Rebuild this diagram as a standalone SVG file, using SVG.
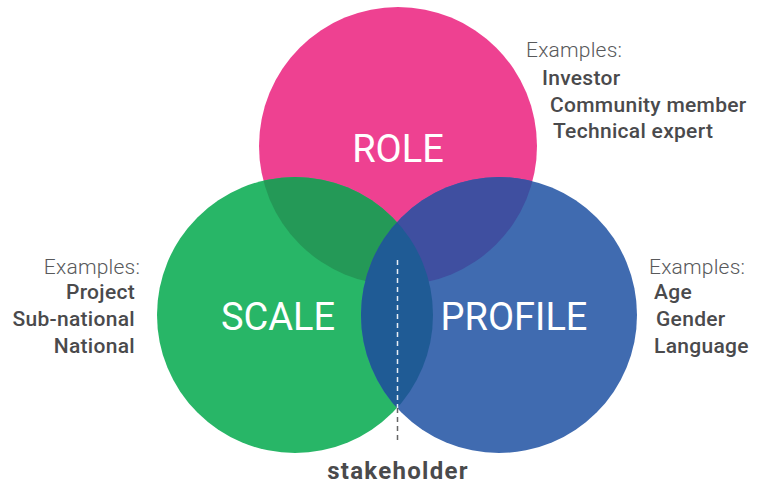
<svg xmlns="http://www.w3.org/2000/svg" width="757" height="484" viewBox="0 0 757 484">
<style>
.big{font-family:Roboto,"Liberation Sans",sans-serif;font-size:38px;fill:#fff;text-anchor:middle}
.ex{font-family:Roboto,"Liberation Sans",sans-serif;font-size:21px;fill:#58595b;font-weight:300;letter-spacing:0.2px}
.it{font-family:Roboto,"Liberation Sans",sans-serif;font-size:21px;fill:#4a4a4c;font-weight:500;letter-spacing:0.3px}
.r{text-anchor:end}
.sh{font-family:Roboto,"Liberation Sans",sans-serif;font-size:24px;fill:#4a4a4c;font-weight:700;text-anchor:middle;letter-spacing:1.3px}
</style>
<defs>
<clipPath id="cRole"><circle cx="398" cy="146" r="139"/></clipPath>
<clipPath id="cScale"><circle cx="295" cy="315" r="138"/></clipPath>
</defs>
<rect width="757" height="484" fill="#fff"/>
<g id="role"><circle cx="398" cy="146" r="139" fill="#ee4191"/></g>
<g id="scale"><circle cx="295" cy="315" r="138" fill="#28b667"/></g>
<g id="profile"><circle cx="499" cy="315" r="138" fill="#406bb0"/></g>
<g id="overlaps">
<circle cx="295" cy="315" r="138" fill="#249957" clip-path="url(#cRole)"/>
<circle cx="499" cy="315" r="138" fill="#3f4fa0" clip-path="url(#cRole)"/>
<circle cx="499" cy="315" r="138" fill="#1f5b95" clip-path="url(#cScale)"/>
</g>
<g id="labels">
<text class="big" x="398" y="162">ROLE</text>
<text class="big" x="278" y="330">SCALE</text>
<text class="big" x="514" y="330">PROFILE</text>
</g>
<g id="connectors">
<line x1="397.5" y1="260" x2="397.5" y2="408" stroke="#e8edf5" stroke-width="1.5" stroke-dasharray="5,4"/>
<line x1="397.5" y1="408" x2="397.5" y2="443" stroke="#666" stroke-width="1.5" stroke-dasharray="5,4"/>
</g>
<g id="role-examples">
<text class="ex" x="526" y="57">Examples:</text>
<text class="it" x="542" y="85">Investor</text>
<text class="it" x="550" y="112">Community member</text>
<text class="it" x="553" y="138">Technical expert</text>
</g>
<g id="scale-examples">
<text class="ex r" x="140" y="274">Examples:</text>
<text class="it r" x="135" y="299">Project</text>
<text class="it r" x="135" y="326">Sub-national</text>
<text class="it r" x="135" y="353">National</text>
</g>
<g id="profile-examples">
<text class="ex" x="649" y="274">Examples:</text>
<text class="it" x="654" y="299">Age</text>
<text class="it" x="656" y="326">Gender</text>
<text class="it" x="654" y="353">Language</text>
</g>
<g id="stakeholder"><text class="sh" x="398" y="479">stakeholder</text></g>
</svg>
